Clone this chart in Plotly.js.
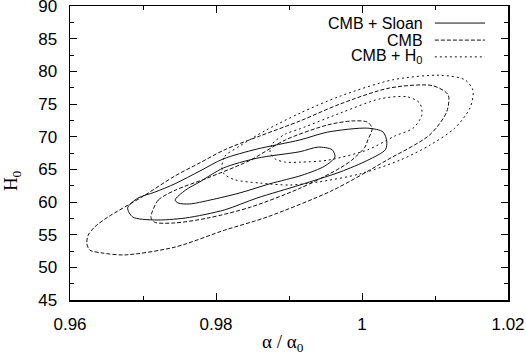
<!DOCTYPE html>
<html>
<head>
<meta charset="utf-8">
<script src="https://cdn.plot.ly/plotly-3.0.1.min.js"></script>
<style>body{margin:0;background:#fff}</style>
</head>
<body>
<div id="myPlot" style="width:526px;height:355px"></div>
<script>
// contour outlines (alpha/alpha0, H0)
// CMB + Sloan
var sloanInnerX = [0.9744,0.9758,0.9778,0.9810,0.9856,0.9915,0.9940,0.9959,0.9963,0.9949,0.9918,0.9874,0.9833,0.9792,0.9764,0.9748,0.9744]
var sloanInnerY = [60.3,61.8,63.1,65.2,66.7,67.7,68.4,68.0,66.9,65.5,64.1,62.8,61.4,60.3,59.7,59.85,60.3]
var sloanOuterX = [0.9679,0.9693,0.9716,0.9744,0.9778,0.9810,0.9856,0.9915,0.9953,1.0008,1.0029,1.0034,1.0032,1.0008,0.9970,0.9915,0.9856,0.9812,0.9758,0.9716,0.9686,0.9679]
var sloanOuterY = [59.1,60.6,61.5,62.8,64.75,66.6,68.1,69.5,70.7,71.3,70.7,69.2,68.0,66.4,64.6,62.6,60.6,58.8,57.55,57.25,57.7,59.1]
// CMB
var cmbInnerX = [0.9712,0.9721,0.9744,0.9789,0.9847,0.9895,0.9953,0.9986,1.0007,1.0014,1.0008,1.0004,0.9986,0.9970,0.9915,0.9847,0.9789,0.9744,0.9716,0.9711,0.9712]
var cmbInnerY = [58.3,60.3,61.8,63.7,66.4,69.5,71.8,72.4,72.25,71.3,69.5,68.4,66.4,65.2,62.1,59.2,57.55,56.8,56.9,57.6,58.3]
var cmbOuterX = [0.9625,0.9634,0.9652,0.9699,0.9744,0.9778,0.9812,0.9860,0.9915,0.9970,1.0038,1.0097,1.0118,1.0116,1.0093,1.0034,0.9960,0.9870,0.9812,0.9744,0.9675,0.9644,0.9627,0.9623,0.9625]
var cmbOuterY = [54.95,56.2,57.7,60.8,64.0,66.0,68.0,70.1,72.4,75.0,77.45,77.8,76.4,73.8,70.3,66.4,61.8,57.7,55.7,53.1,51.9,52.2,52.65,53.7,54.95]
// CMB + H0
var h0InnerX = [0.9874,0.9878,0.9895,0.9915,0.9970,1.0025,1.0062,1.0079,1.0082,1.0070,1.0045,1.0008,0.9953,0.9915,0.9895,0.9881,0.9874]
var h0InnerY = [67.65,69.0,70.4,71.2,73.6,75.8,76.1,75.15,73.3,71.3,70.1,68.0,66.4,66.1,66.1,66.6,67.65]
var h0OuterX = [0.9808,0.9812,0.9833,0.9867,0.9915,0.9970,1.0042,1.0107,1.0141,1.0152,1.0148,1.0127,1.0093,1.0052,0.9997,0.9942,0.9901,0.9860,0.9826,0.9811,0.9808]
var h0OuterY = [65.36,67.0,68.6,70.9,73.6,76.2,78.7,79.4,78.7,77.1,74.4,71.3,68.7,66.4,64.3,63.1,62.6,62.9,63.4,64.3,65.36]

var legendNames = ["CMB + Sloan", "CMB", "CMB + H<sub>0</sub>"]
var dashes = ["solid", "4px,2px", "2px,3px"]

function contour(x, y, dash) {
  return {x: x, y: y, mode: "lines", hoverinfo: "skip", showlegend: false,
    line: {color: "#111", width: 1, dash: dash, shape: "spline", smoothing: 0.8}}
}

var data = [
  contour(sloanInnerX, sloanInnerY, dashes[0]),
  contour(sloanOuterX, sloanOuterY, dashes[0]),
  contour(cmbInnerX, cmbInnerY, dashes[1]),
  contour(cmbOuterX, cmbOuterY, dashes[1]),
  contour(h0InnerX, h0InnerY, dashes[2]),
  contour(h0OuterX, h0OuterY, dashes[2])
]

// gnuplot style key: text on the left, sample on the right
var keyY = [0.942, 0.884, 0.827]
var annotations = []
var shapes = []
for (var i = 0; i < legendNames.length; i++) {
  annotations.push({xref: "paper", yref: "paper", x: 0.8105, y: keyY[i], xanchor: "right", yanchor: "middle",
    text: legendNames[i], showarrow: false, font: {size: 16, color: "#000"}})
  shapes.push({type: "line", xref: "paper", yref: "paper", x0: 0.833, x1: 0.9475, y0: keyY[i], y1: keyY[i],
    line: {color: "#111", width: 1, dash: dashes[i]}})
}
// axis titles
annotations.push({xref: "paper", yref: "paper", x: 0.486, y: -0.146, xanchor: "center", yanchor: "middle",
  text: "\u03b1 / \u03b1<sub>0</sub>", showarrow: false, font: {family: "Liberation Serif, serif", size: 19, color: "#000"}})
annotations.push({xref: "paper", yref: "paper", x: -0.132, y: 0.405, xanchor: "center", yanchor: "middle", textangle: -90,
  text: "H<sub>0</sub>", showarrow: false, font: {family: "Liberation Serif, serif", size: 19, color: "#000"}})

var layout = {
  width: 526, height: 355,
  margin: {l: 70, r: 18, t: 6, b: 55},
  paper_bgcolor: "#fff", plot_bgcolor: "#fff",
  font: {family: "Liberation Sans, Arial, sans-serif", size: 17, color: "#000"},
  showlegend: false,
  xaxis: {range: [0.96, 1.02], dtick: 0.02, tick0: 0.96, showgrid: false, zeroline: false,
    showline: true, linecolor: "#000", linewidth: 1.5, mirror: "allticks",
    ticks: "inside", ticklen: 7, tickwidth: 1, tickcolor: "#000", ticklabelstandoff: 8,
    ticklabeloverflow: "allow",
    minor: {dtick: 0.01, ticks: "inside", ticklen: 4, tickcolor: "#000", showgrid: false}},
  yaxis: {range: [45, 90], dtick: 5, tick0: 45, showgrid: false, zeroline: false,
    showline: true, linecolor: "#000", linewidth: 1.5, mirror: "allticks",
    ticks: "inside", ticklen: 7, tickwidth: 1, tickcolor: "#000", ticklabelstandoff: 8,
    ticklabeloverflow: "allow",
    minor: {dtick: 2.5, ticks: "inside", ticklen: 4, tickcolor: "#000", showgrid: false}},
  annotations: annotations,
  shapes: shapes
}

Plotly.newPlot("myPlot", data, layout, {staticPlot: true})
</script>
</body>
</html>
